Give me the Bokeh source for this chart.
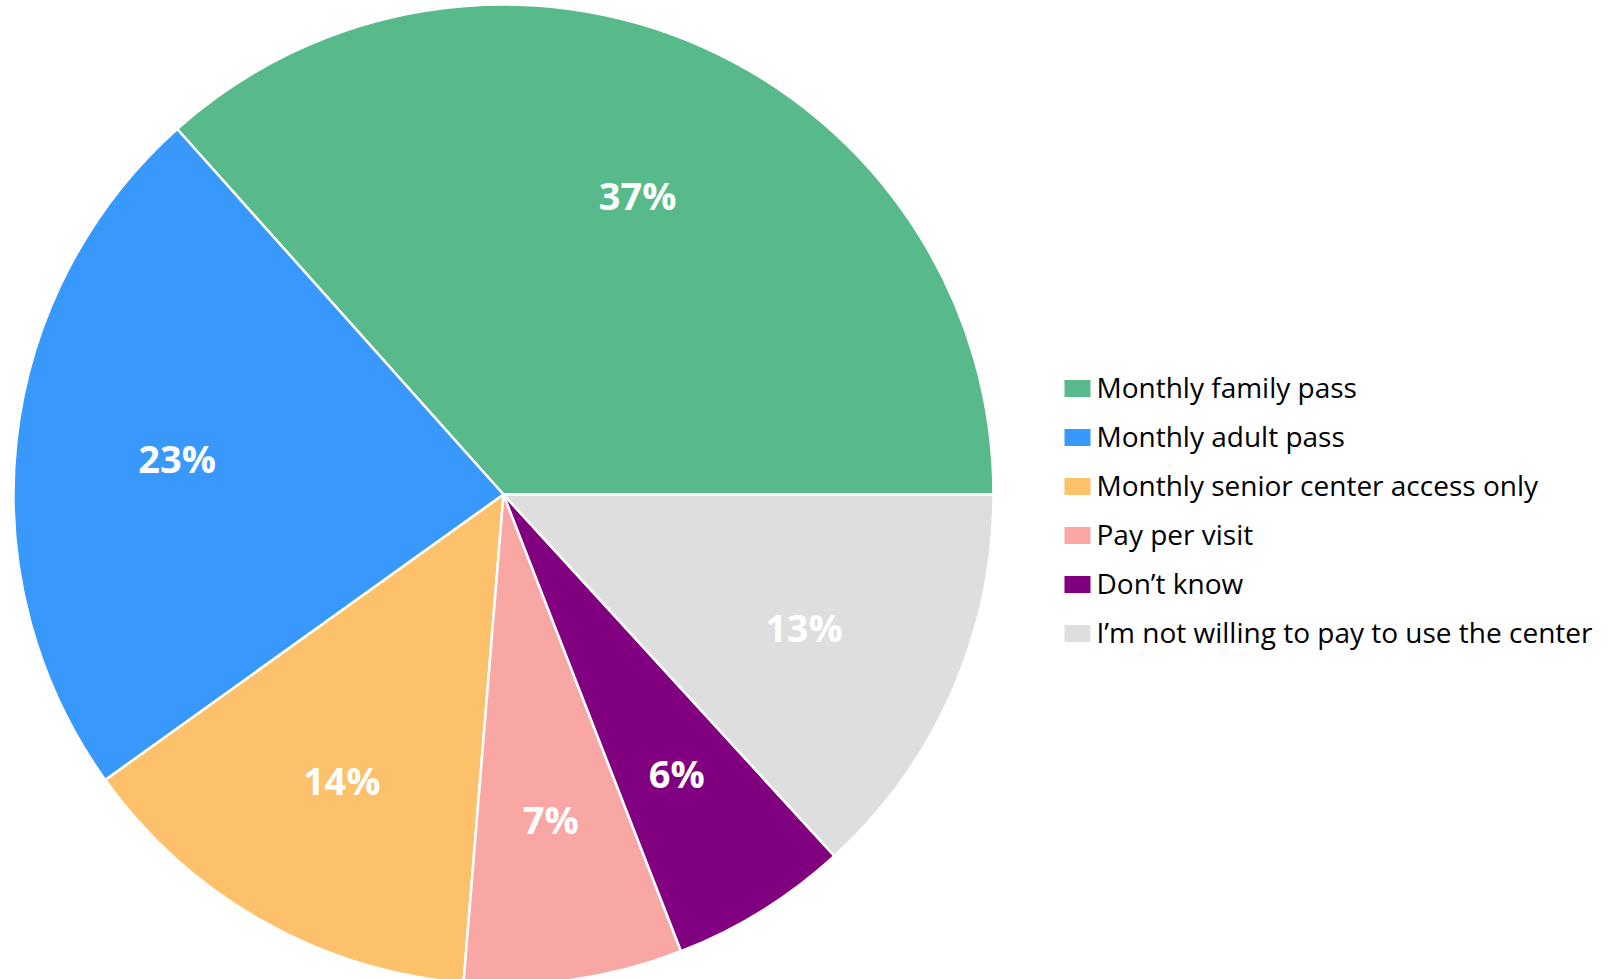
import numpy as np
from bokeh.plotting import figure
from bokeh.models import Range1d, ColumnDataSource
from bokeh.core.properties import value
from bokeh.embed import file_html
from bokeh.resources import INLINE

categories = ["Monthly family pass", "Monthly adult pass", "Monthly senior center access only",
              "Pay per visit", "Don\u2019t know", "I\u2019m not willing to pay to use the center"]
shares = [36.6, 23.3, 13.8, 7.2, 5.9, 13.2]
colors = ["#58B98A", "#3898FB", "#FDC06B", "#F9A7A4", "#800080", "#DEDEDE"]

W, H = 1598, 979
p = figure(width=W, height=H, output_backend="svg", toolbar_location=None,
           x_range=Range1d(0, W), y_range=Range1d(0, H), min_border=0)
p.axis.visible = False
p.grid.visible = False
p.outline_line_color = None
p.background_fill_color = "white"

cx, cy, R = 503, 485, 490
vals = np.array(shares, dtype=float)
frac = vals / vals.sum()
ends = np.cumsum(frac) * 2 * np.pi
starts = ends - frac * 2 * np.pi
mids = (starts + ends) / 2

src = ColumnDataSource(dict(start=starts, end=ends, color=colors, cat=categories))
p.wedge(x=cx, y=cy, radius=R, start_angle="start", end_angle="end", fill_color="color",
        line_color="white", line_width=2.5, source=src)

lr = 0.67 * R
lab = ColumnDataSource(dict(x=cx + lr * np.cos(mids), y=cy + lr * np.sin(mids),
                            t=[f"{round(v)}%" for v in shares]))
p.text(x="x", y="y", text="t", source=lab, text_color="white", text_font=value("Open Sans"),
       text_font_style="bold", text_font_size="38px", text_align="center", text_baseline="middle")

# legend
lx, ly0, dy = 1077, H - 388, 49
n = len(categories)
ys = ly0 - dy * np.arange(n)
leg = ColumnDataSource(dict(x=[lx] * n, y=ys, ty=ys + 2, color=colors, cat=categories,
                            tx=[lx + 19] * n))
p.rect(x="x", y="y", width=26, height=17, fill_color="color", line_color=None, source=leg)
p.text(x="tx", y="ty", text="cat", source=leg, text_color="black", text_font=value("Open Sans"),
       text_font_size="28px", text_align="left", text_baseline="middle")

open("out.html", "w").write(file_html(p, INLINE))
